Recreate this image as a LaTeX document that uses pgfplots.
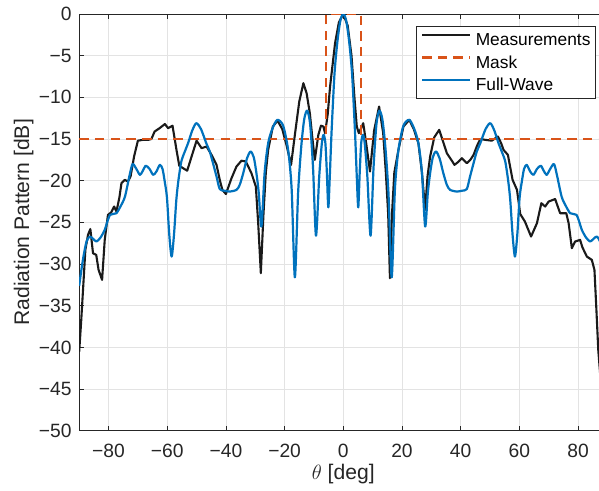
\documentclass[border=0pt]{standalone}
\usepackage{fontspec}
\setmainfont{Liberation Sans}
\usepackage{pgfplots}
\pgfplotsset{compat=1.18}
\definecolor{meas}{HTML}{1A1A1A}
\definecolor{mask}{HTML}{D95319}
\definecolor{fw}{HTML}{0072BD}
\definecolor{axc}{HTML}{262626}
\definecolor{gridc}{HTML}{E3E3E3}
\begin{document}
\begin{tikzpicture}
\begin{axis}[
  scale only axis,
  width=528.1bp, height=416.7bp,
  xmin=-90, xmax=90, ymin=-50, ymax=0,
  xtick={-80,-60,-40,-20,0,20,40,60,80},
  xticklabels={−80,−60,−40,−20,0,20,40,60,80},
  ytick={-50,-45,-40,-35,-30,-25,-20,-15,-10,-5,0},
  yticklabels={−50,−45,−40,−35,−30,−25,−20,−15,−10,−5,0},
  tick align=inside,
  major tick length=5bp,
  tick style={color=axc, line width=0.6bp},
  axis line style={color=axc, line width=0.6bp},
  grid=major,
  major grid style={color=gridc, line width=0.5bp},
  every tick label/.append style={font=\fontsize{19.3}{23}\selectfont, text=axc},
  xticklabel style={anchor=base, inner sep=0pt, yshift=-27bp},
  yticklabel style={anchor=east, inner sep=0pt, xshift=-7.5bp},
  xlabel={$\theta$ [deg]},
  ylabel={Radiation Pattern [dB]},
  label style={font=\fontsize{21.2}{25}\selectfont, text=axc},
  xlabel style={at={(axis description cs:0.5,0)}, anchor=base, inner sep=0pt, yshift=-48.5bp},
  ylabel style={at={(axis description cs:0,0.5)}, anchor=base, inner sep=0pt, yshift=50bp},
  legend cell align=left,
  legend image code/.code={\draw[#1] (0bp,4.5bp) -- (47.6bp,4.5bp);},
  legend style={at={(axis cs:24.78,-1.4)}, anchor=north west,
    draw=axc, line width=0.6bp, fill=white,
    font=\fontsize{17.4}{20}\selectfont,
    row sep=10bp, column sep=5bp,
    inner xsep=4.7bp, inner ysep=7.3bp,
    nodes={inner sep=0pt, text height=12.5bp, text depth=0pt}},
]
\addplot[meas, line width=2.1bp, line join=round] coordinates {
(-90,-40.5) (-89.3,-36.7) (-88.7,-33.1) (-87.9,-28.3) (-87,-26.5) (-86.2,-25.8)
(-85.3,-28.7) (-84.2,-28.9) (-83.4,-30.7) (-82.2,-31.9) (-81.3,-27.1) (-80.2,-24.1)
(-79.1,-23.8) (-78.1,-23.1) (-77.3,-23.7) (-76.3,-22) (-75.6,-20.3) (-74.5,-19.9)
(-73.4,-20.1) (-72.5,-19.5) (-71.3,-17.1) (-70,-15.2) (-68.3,-15.1) (-66.5,-15.1)
(-65.4,-15) (-64.3,-14.1) (-62.6,-13.7) (-60.8,-13.2) (-59.7,-13.7) (-58.2,-13.4)
(-56.8,-16.4) (-55.9,-18.2) (-54.6,-18.5) (-53.2,-18.8) (-51.7,-17.1) (-50,-15.2)
(-48.3,-16.1) (-46.6,-15.9) (-44.9,-16.9) (-43.2,-18.1) (-42.1,-19.9) (-41.2,-21.1)
(-40,-21.6) (-38.1,-19.7) (-36.4,-18.3) (-34.7,-17.6) (-33.2,-17.7) (-31.3,-19.1)
(-29.8,-20.7) (-29,-25.1) (-28.1,-31.1) (-27.2,-24) (-26.4,-19) (-25.6,-16.3)
(-24,-13.5) (-22.4,-12.8) (-20.8,-13.8) (-19.3,-15.8) (-17.8,-18.1) (-16.5,-14.5)
(-15,-10.5) (-13.6,-8.3) (-12.5,-9.5) (-11.4,-11.9) (-10.5,-15) (-9.7,-17.5)
(-8.5,-14.5) (-7.6,-13.4) (-6.8,-13.5) (-6.2,-14.3) (-5.3,-12) (-4.5,-8.7)
(-2.8,-3.5) (-1.5,-1) (0,0) (1.5,-1.4) (2.8,-5) (3.8,-10) (4.6,-13.5) (5.3,-14.3)
(6.8,-13.1) (7.8,-15.5) (9.1,-18.9) (10.5,-14) (12.2,-11.1) (13.6,-14.3) (14.5,-19)
(15.3,-24) (15.9,-31.7) (16.6,-24) (17.4,-19) (18.8,-16.3) (20.5,-13.5) (22.5,-12.7)
(24,-13.8) (25.6,-15.5) (26.8,-19) (27.9,-23.5) (28.7,-19.5) (29.6,-17.1) (31,-14.8)
(32.7,-13.9) (34,-15.3) (35.3,-16.7) (37,-17.6) (37.9,-18.1) (39,-17.8) (40.4,-17.3)
(42.1,-17.9) (43.3,-17.5) (44.4,-16.9) (45.6,-15.8) (46.7,-15) (48.4,-15.1)
(50.6,-15.2) (52.7,-14.7) (53.8,-15.5) (54.6,-16.3) (56.1,-16.9) (57.7,-19.9)
(59.2,-21.1) (60.3,-24) (61.9,-24.9) (64,-26.7) (66,-25.1) (67.5,-22.7) (68.8,-23.1)
(70,-22.5) (72.2,-22.2) (73.9,-23.9) (76,-23.9) (76.8,-25.1) (77.9,-28.1) (79,-27.3)
(80.7,-27.1) (81.5,-28) (83,-29.1) (84.7,-29.5) (85.6,-30.7) (86.2,-35) (86.9,-40.3)
(87.5,-43) (90,-48)
};
\addlegendentry{Measurements}
\addplot[mask, line width=2.1bp, dash pattern=on 9.5bp off 6.2bp] coordinates {
(-90,-15) (-6,-15) (-6,0) (6,0) (6,-15) (90,-15)
};
\addlegendentry{Mask}
\addplot[fw, line width=2.2bp, smooth, tension=0.45, line join=round] coordinates {
(-90,-32.6) (-89.3,-30.8) (-88.5,-29) (-87.5,-27.3) (-86.4,-26.7) (-85.2,-27) (-84.1,-27.3)
(-82.7,-26.8) (-81.3,-25.9) (-80.3,-24.8) (-79.5,-24.1) (-78.5,-24) (-77.3,-23.9)
(-75.8,-23) (-74.4,-21.9) (-72.8,-19.3) (-71.8,-18) (-70.5,-18.6) (-69.3,-19.3)
(-68.3,-18.8) (-67.3,-18.2) (-66,-18.6) (-64.8,-19.3) (-63.7,-18.9) (-62.5,-18.1)
(-61.6,-18.6) (-60.9,-20) (-60.1,-22) (-59.3,-26.5) (-58.5,-29.1) (-57.7,-26.5)
(-56.9,-22.3) (-56.2,-20) (-55.2,-17.7) (-54,-16.5) (-52.9,-15.5) (-51.5,-14)
(-50.1,-13.1) (-48.5,-13.8) (-46.7,-15.5) (-45.5,-16.5) (-44.4,-17.9) (-43.2,-19.5)
(-42.1,-21) (-40.5,-21.2) (-38.7,-21.3) (-36.4,-21.1) (-35.3,-20.5) (-34.1,-19.1)
(-32.8,-17.3) (-31.6,-16.5) (-30.5,-17.2) (-29.6,-19.1) (-28.8,-21.5) (-27.9,-25.5)
(-26.8,-19) (-25.6,-15.5) (-24.2,-13.8) (-22.5,-12.7) (-20.5,-13.4) (-18.8,-16.3)
(-17.6,-21) (-16.5,-31.6) (-15.4,-21.5) (-14.3,-15.8) (-13.3,-12.6) (-12.3,-11.6)
(-11.3,-13.2) (-10.3,-18.5) (-9.3,-26.6) (-8.2,-19.5) (-7.3,-15.5) (-6.7,-14.5)
(-6.1,-15.5) (-5.6,-19) (-5.1,-23.2) (-4.6,-19.5) (-4,-14.2) (-3,-7.2) (-2,-3.3)
(-1,-0.8) (0,0)
(1,-0.8) (2,-3.3) (3,-7.2) (4,-14.2) (4.6,-19.5) (5.1,-23.2) (5.6,-19) (6.1,-15.5)
(6.7,-14.5) (7.3,-15.5) (8.2,-19.5) (9.3,-26.6) (10.3,-18.5) (11.3,-13.2) (12.3,-11.6)
(13.3,-12.6) (14.3,-15.8) (15.4,-21.5) (16.5,-31.6) (17.6,-21) (18.8,-16.3)
(20.5,-13.4) (22.5,-12.7) (24.2,-13.8) (25.6,-15.5) (26.8,-19) (27.9,-25.5)
(28.8,-21.5) (29.6,-19.1) (30.5,-17.2) (31.6,-16.5) (32.8,-17.3) (34.1,-19.1)
(35.3,-20.5) (36.4,-21.1) (38.7,-21.3) (40.5,-21.2) (42.1,-21) (43.2,-19.5)
(44.4,-17.9) (45.5,-16.5) (46.7,-15.5) (48.5,-13.8) (50.1,-13.1) (51.5,-14)
(52.9,-15.5) (54,-16.5) (55.2,-17.7) (56.2,-20) (56.9,-22.3) (57.7,-26.5) (58.5,-29.1)
(59.3,-26.5) (60.1,-22) (60.9,-20) (61.6,-18.6) (62.5,-18.1) (63.7,-18.9) (64.8,-19.3)
(66,-18.6) (67.3,-18.2) (68.3,-18.8) (69.3,-19.3) (70.5,-18.6) (71.8,-18) (72.8,-19.3)
(74.4,-21.9) (75.8,-23) (77.3,-23.9) (78.5,-24) (79.5,-24.1) (80.3,-24.8) (81.3,-25.9)
(82.7,-26.8) (84.1,-27.3) (85.2,-27) (86.4,-26.7) (87.5,-27.3) (88.5,-29) (89.3,-30.8)
(90,-32.6)
};
\addlegendentry{Full-Wave}
\node[coordinate] (SW) at (axis cs:-90,-50) {};
\node[coordinate] (NE) at (axis cs:87.15,0) {};
\end{axis}
\pgfresetboundingbox
\path[use as bounding box] ([xshift=-79.2bp,yshift=-59.3bp]SW) rectangle ([yshift=14bp]NE);
\end{tikzpicture}
\end{document}
